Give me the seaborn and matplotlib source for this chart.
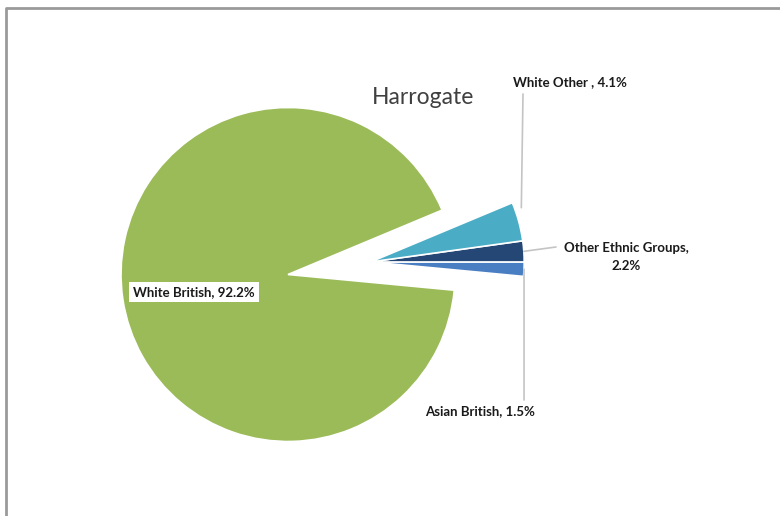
import numpy as np
import matplotlib
matplotlib.use("Agg")
import matplotlib.pyplot as plt
import seaborn as sns
from matplotlib.lines import Line2D

# data
groups = ["Asian British", "Other Ethnic Groups", "White Other", "White British"]
shares = [1.5, 2.2, 4.1, 92.2]
labels = ["Asian British, 1.5%", "Other Ethnic Groups,\n2.2%", "White Other , 4.1%", "White British, 92.2%"]
colors = ["#4A7EC2", "#254775", "#4BACC6", "#9BBB59"]
pulled = [True, True, True, False]   # slices pulled out together
pull_dist = 0.5

sns.set_theme(style="white")
plt.rcParams['font.family'] = ['Lato', 'DejaVu Sans']

W, H = 780, 516
fig = plt.figure(figsize=(W / 100, H / 100), dpi=100)
ax = fig.add_axes([0, 0, 1, 1])

# pie centre / radius in pixels
cx, cy, R = 288, 274.5, 167.0


def px(x, y):
    # pixel position -> data coords (radius 1 == R px)
    return (x - cx) / R, (cy - y) / R


start = -shares[0] / sum(shares) * 360
wedges, _ = ax.pie(shares, colors=colors, startangle=start, radius=1.0,
                   wedgeprops=dict(edgecolor="white", linewidth=1.2))

# move the small slices out as one block, along their common mid angle
small = [w for w, p in zip(wedges, pulled) if p]
mid = np.radians((small[0].theta1 + small[-1].theta2) / 2)
dx, dy = pull_dist * np.cos(mid), pull_dist * np.sin(mid)
for w in small:
    w.set_center((dx, dy))
    w.set_radius(0.92)

ax.set_xlim(-cx / R, (W - cx) / R)
ax.set_ylim(-(H - cy) / R, cy / R)
ax.set_aspect("equal")
ax.axis("off")


def arc_point(w, ang):
    c = w.center
    return c[0] + w.r * np.cos(np.radians(ang)), c[1] + w.r * np.sin(np.radians(ang))


line_kw = dict(arrowstyle="-", color="#C4C4C4", lw=1.2, shrinkA=0, shrinkB=0)
lab_kw = dict(fontsize=9.5, fontweight="bold", color="#1a1a1a")

# White Other
w = wedges[2]
a = arc_point(w, w.theta2 - 2)
top = px(523, 94)
ax.annotate("", xy=(top[0] - 0.01, a[1]), xytext=top, arrowprops=line_kw)
ax.text(*px(570, 82), labels[2], ha="center", va="center", **lab_kw)

# Other Ethnic Groups
w = wedges[1]
ax.annotate("", xy=arc_point(w, (w.theta1 + w.theta2) / 2), xytext=px(556, 247), arrowprops=line_kw)
ax.text(*px(626, 257), labels[1], ha="center", va="center", linespacing=1.5, **lab_kw)

# Asian British
w = wedges[0]
a = arc_point(w, (w.theta1 + w.theta2) / 2)
ax.annotate("", xy=a, xytext=(a[0], px(0, 400)[1]), arrowprops=line_kw)
ax.text(*px(480, 411), labels[0], ha="center", va="center", **lab_kw)

# White British (boxed, inside the slice)
ax.text(*px(194, 292), labels[3], ha="center", va="center",
        bbox=dict(boxstyle="square,pad=0.3", fc="white", ec="none"), **lab_kw)

ax.text(*px(423, 98), "Harrogate", ha="center", va="center", fontsize=16.5, color="#404040")

# chart frame: only the top and left edges show, the rest runs off the image
fx, fy = 5.5 / W, 1 - 7.5 / H
fig.add_artist(Line2D([fx, fx, 1.0], [0.0, fy, fy], transform=fig.transFigure,
                      color="#9A9A9A", lw=2))

fig.savefig("out.png", dpi=100)
